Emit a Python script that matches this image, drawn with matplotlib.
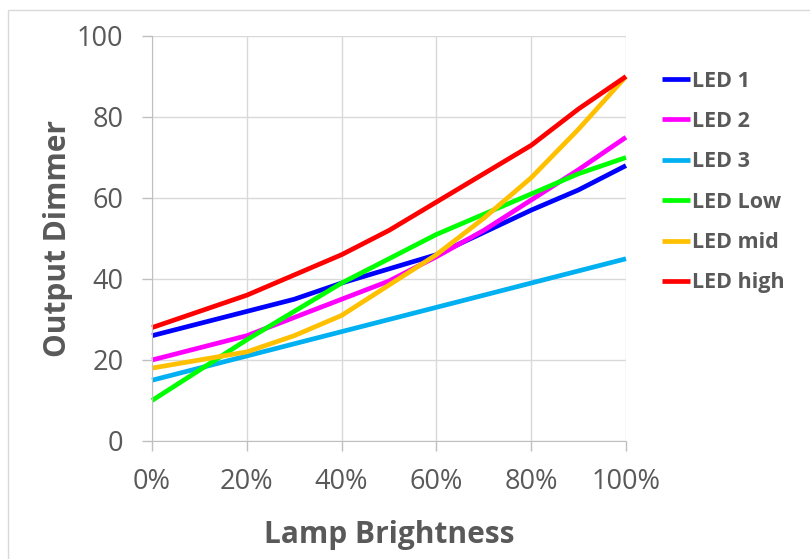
import numpy as np
import matplotlib.pyplot as plt
from matplotlib.patches import Rectangle

# Brightness steps (fraction of full lamp brightness)
brightness = [0.0, 0.1, 0.2, 0.3, 0.4, 0.5, 0.6, 0.7, 0.8, 0.9, 1.0]

led_1 = [26, 29, 32, 35, 39, 42.5, 46, 51.5, 57, 62, 68]
led_2 = [20, 23, 26, 30.5, 35, 39.5, 45.5, 52, 59.5, 67, 75]
led_3 = [15, 18, 21, 24, 27, 30, 33, 36, 39, 42, 45]
led_low = [10, 17.5, 25, 32, 39, 45, 51, 56, 61, 66, 70]
led_mid = [18, 20, 22, 26, 31, 38.5, 46, 55, 65, 77, 90]
led_high = [28, 32, 36, 41, 46, 52, 59, 66, 73, 82, 90]

names = ['LED 1', 'LED 2', 'LED 3', 'LED Low', 'LED mid', 'LED high']
colors = ['#0000ff', '#ff00ff', '#00b0f0', '#00ff00', '#ffc000', '#ff0000']
series = [led_1, led_2, led_3, led_low, led_mid, led_high]

x_ticks = [0, 0.2, 0.4, 0.6, 0.8, 1.0]
x_labels = ['0%', '20%', '40%', '60%', '80%', '100%']
y_ticks = [0, 20, 40, 60, 80, 100]

grey_text = '#595959'
plt.rcParams['font.family'] = ['Open Sans', 'DejaVu Sans']

fig = plt.figure(figsize=(8.1, 5.59), dpi=100)
ax = fig.add_axes([0.1877, 0.2111, 0.5851, 0.7245])

for vals, name, c in zip(series, names, colors):
    ax.plot(brightness, vals, color=c, lw=3.4, label=name, clip_on=False,
            solid_capstyle='butt')

ax.set_xlim(0, 1)
ax.set_ylim(0, 100)
ax.set_xticks(x_ticks)
ax.set_xticklabels(x_labels)
ax.set_yticks(y_ticks)
ax.grid(True, color='#d9d9d9', lw=1)
ax.set_axisbelow(True)

for s in ['top', 'right']:
    ax.spines[s].set_visible(False)
for s in ['left', 'bottom']:
    ax.spines[s].set_color('#bfbfbf')
ax.tick_params(axis='both', colors='#bfbfbf', labelcolor=grey_text,
               labelsize=19.5, length=7.5, width=1)
ax.tick_params(axis='x', pad=12)
ax.tick_params(axis='y', pad=13)

ax.set_xlabel('Lamp Brightness', fontsize=21.5, fontweight='bold',
              color=grey_text, labelpad=17)
ax.set_ylabel('Output Dimmer', fontsize=21.5, fontweight='bold',
              color=grey_text, labelpad=3)

leg = fig.legend(loc='upper left', bbox_to_anchor=(0.804, 0.893),
                 frameon=False, fontsize=15.5, handlelength=1.3,
                 handletextpad=0.1, labelspacing=0.9, borderpad=0)
for t in leg.get_texts():
    t.set_color(grey_text)
    t.set_fontweight('bold')

# light frame around the chart area, like the spreadsheet export
fig.patches.append(Rectangle((0.0099, -0.1), 1.2, 1.082,
                             transform=fig.transFigure, fill=False,
                             edgecolor='#d9d9d9', lw=1))

fig.savefig('out.png', dpi=100)
